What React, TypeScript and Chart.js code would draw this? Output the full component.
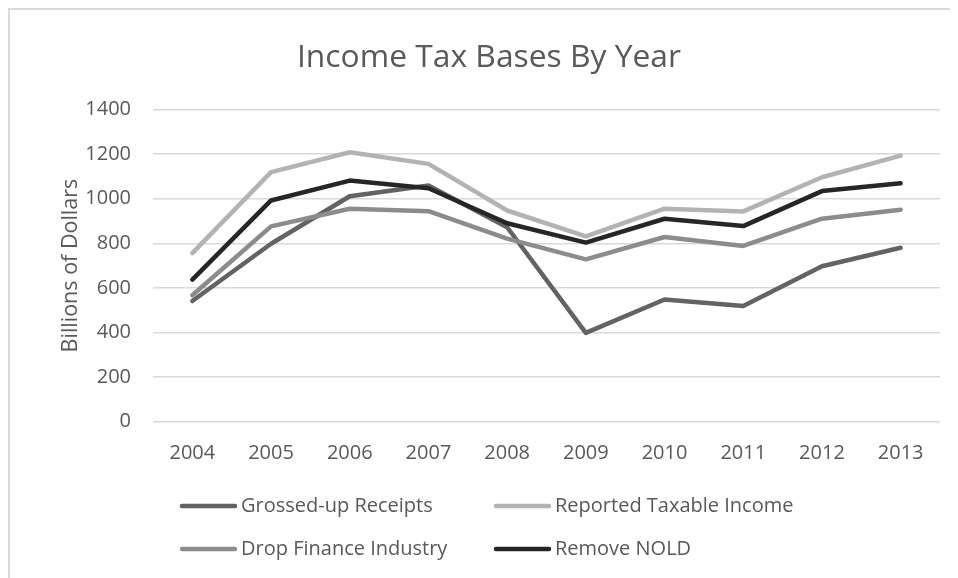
import React, { useEffect, useRef } from "react";
import { Chart, registerables } from "chart.js";

Chart.register(...registerables);

const years = ["2004", "2005", "2006", "2007", "2008", "2009", "2010", "2011", "2012", "2013"];
const grossedUpReceipts = [541, 798, 1011, 1059, 872, 398, 548, 519, 697, 780];
const reportedTaxableIncome = [756, 1119, 1208, 1156, 947, 831, 955, 943, 1096, 1193];
const dropFinanceIndustry = [567, 876, 955, 944, 821, 728, 828, 788, 910, 950];
const removeNOLD = [637, 992, 1081, 1047, 890, 803, 910, 877, 1034, 1069];
const seriesNames = ["Grossed-up Receipts", "Reported Taxable Income", "Drop Finance Industry", "Remove NOLD"];
const yTicks = [0, 200, 400, 600, 800, 1000, 1200, 1400];

const FONT = "'Open Sans', 'Noto Sans', sans-serif";
const TEXT = "#595959";
const colors = ["#636363", "#b3b3b3", "#8c8c8c", "#262626"];

const legendPlugin = {
  id: "gridLegend",
  afterDraw(chart: any) {
    const ctx = chart.ctx;
    const cols = [172, 486];
    const rows = [496, 539];
    ctx.save();
    chart.data.datasets.forEach((ds: any, i: number) => {
      const x = cols[i % 2];
      const y = rows[Math.floor(i / 2)];
      ctx.strokeStyle = ds.borderColor;
      ctx.lineWidth = 4.5;
      ctx.lineCap = "round";
      ctx.beginPath();
      ctx.moveTo(x, y);
      ctx.lineTo(x + 53, y);
      ctx.stroke();
      ctx.fillStyle = TEXT;
      ctx.font = `20px ${FONT}`;
      ctx.textBaseline = "middle";
      ctx.textAlign = "left";
      ctx.fillText(ds.label, x + 59, y);
    });
    ctx.restore();
  },
};

export default function App() {
  const ref = useRef<HTMLCanvasElement>(null);
  useEffect(() => {
    if (!ref.current) return;
    const series = [grossedUpReceipts, reportedTaxableIncome, dropFinanceIndustry, removeNOLD];
    const chart = new Chart(ref.current, {
      type: "line",
      data: {
        labels: years,
        datasets: series.map((d, i) => ({
          label: seriesNames[i],
          data: d,
          borderColor: colors[i],
          backgroundColor: colors[i],
          borderWidth: 4.5,
          borderCapStyle: "round",
          borderJoinStyle: "round",
          pointRadius: 0,
          tension: 0,
          fill: false,
          order: 3 - i,
        })),
      },
      options: {
        animation: false,
        responsive: false,
        layout: { padding: { left: 28, right: 18, top: 0, bottom: 106.3 } },
        plugins: {
          legend: { display: false },
          tooltip: { enabled: false },
          title: {
            display: true,
            text: "Income Tax Bases By Year",
            color: TEXT,
            font: { family: FONT, size: 31.8, weight: "normal" as any },
            padding: { top: 29, bottom: 32.3 },
          },
        },
        scales: {
          x: {
            offset: true,
            grid: { display: false },
            border: { display: false },
            ticks: { color: TEXT, font: { family: FONT, size: 20 }, padding: 12, maxRotation: 0 },
            afterFit: (s: any) => { s.height = 50; },
          },
          y: {
            min: 0,
            max: 1400,
            afterBuildTicks: (s: any) => { s.ticks = yTicks.map((v) => ({ value: v })); },
            grid: { color: "#d9d9d9", lineWidth: 1.5, drawTicks: false },
            border: { display: false },
            ticks: {
              color: TEXT,
              font: { family: FONT, size: 20 },
              padding: 22,
              callback: (v: any) => String(v),
            },
            title: {
              display: true,
              text: "Billions of Dollars",
              color: TEXT,
              font: { family: FONT, size: 21.5 },
              padding: { top: 20, bottom: 0 },
            },
            afterFit: (s: any) => { s.width = 115; },
          },
        },
      },
      plugins: [legendPlugin],
    });
    return () => chart.destroy();
  }, []);
  return (
    <div
      style={{
        width: 948,
        height: 568,
        borderTop: "2px solid #d9d9d9",
        borderLeft: "2px solid #d9d9d9",
        background: "#fff",
        overflow: "hidden",
      }}
    >
      <canvas ref={ref} width={948} height={568} style={{ display: "block" }} />
    </div>
  );
}
